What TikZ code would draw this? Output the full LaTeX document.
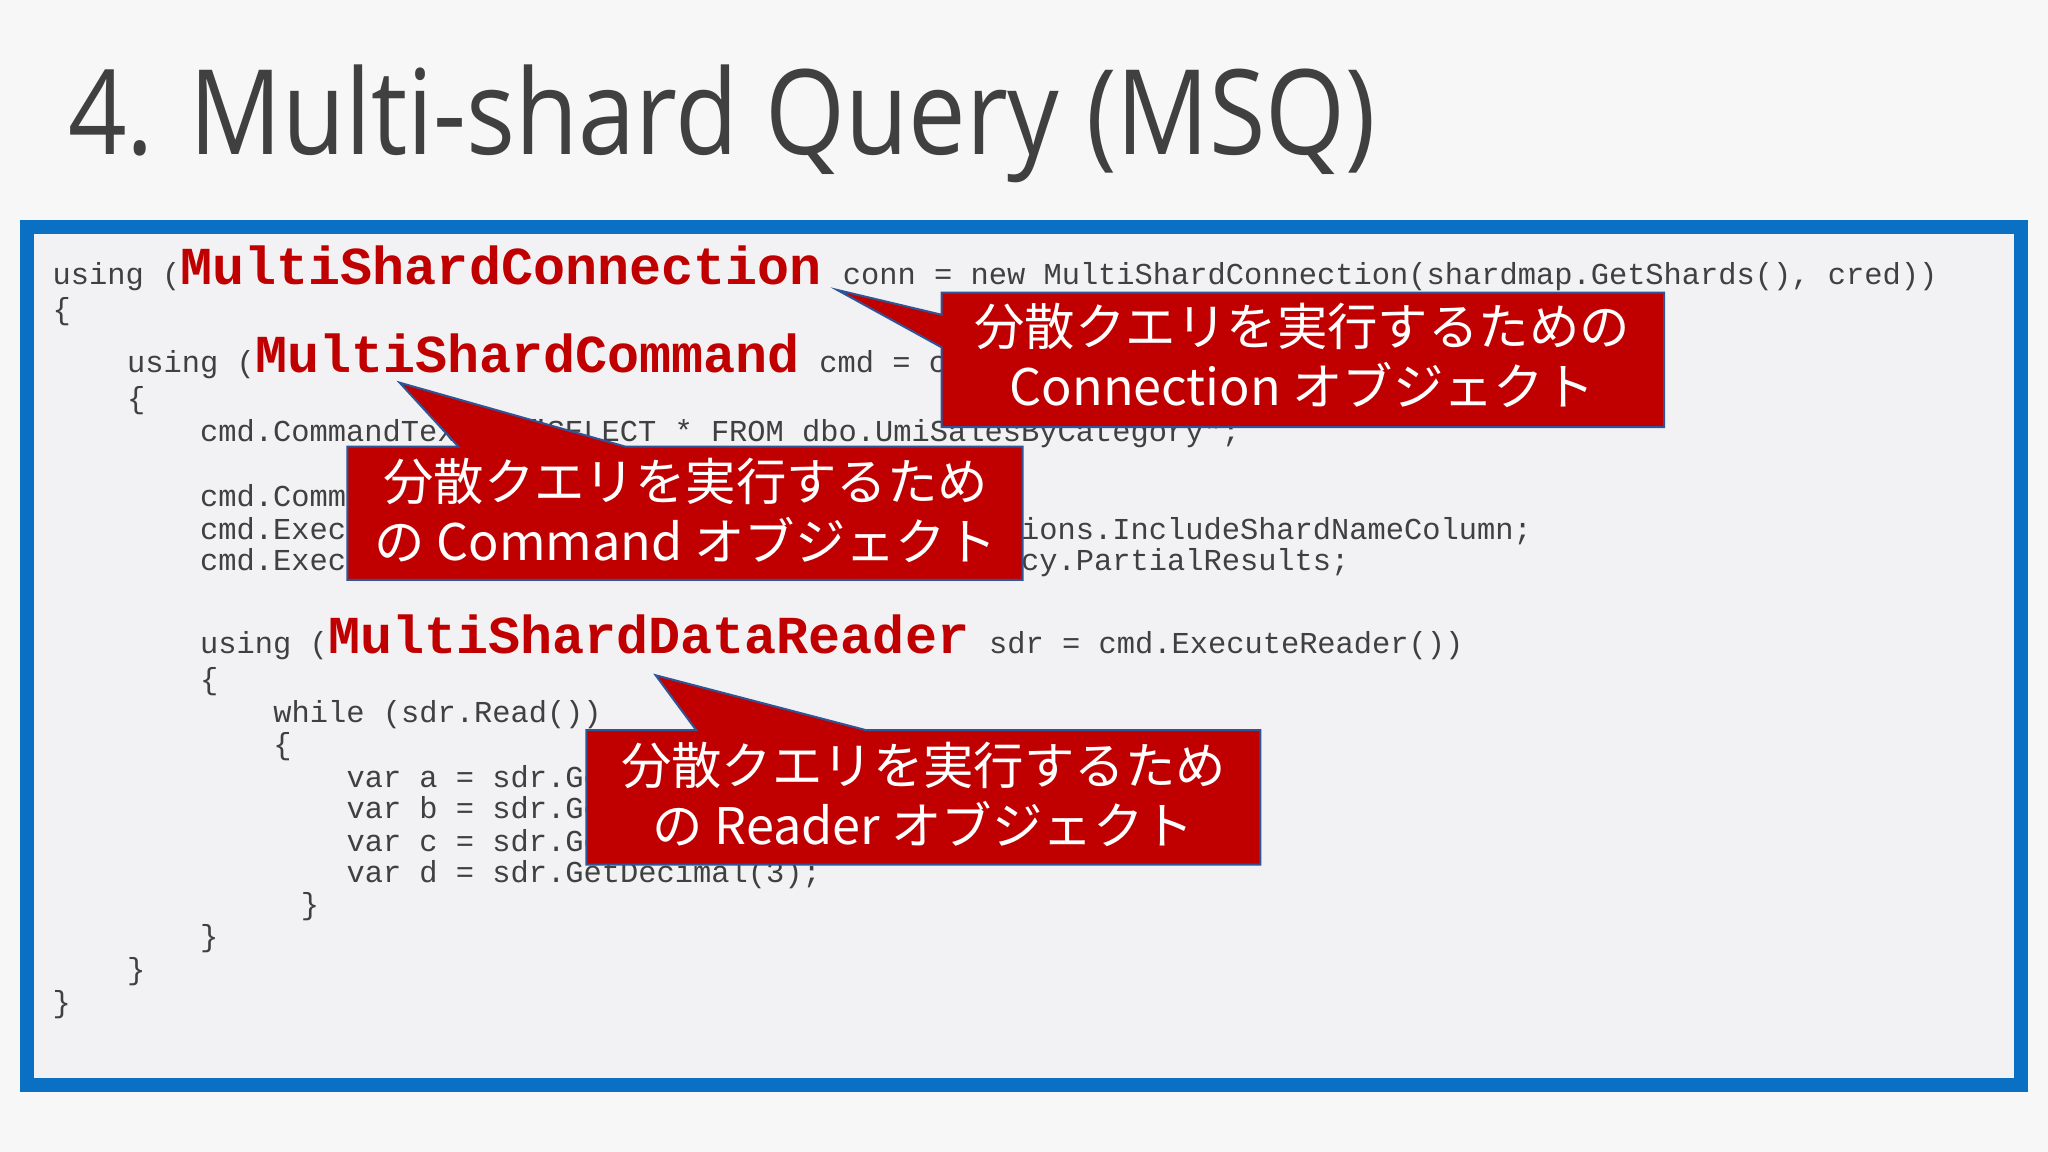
\documentclass[tikz,border=0pt]{standalone}
\usepackage{fontspec}
\setmainfont{Open Sans}
\newfontfamily\codefont{Liberation Mono}
\newfontfamily\jpfont{Noto Sans CJK JP}
\definecolor{bg}{HTML}{F7F7F7}
\definecolor{panel}{HTML}{F2F2F4}
\definecolor{frame}{HTML}{0A70C4}
\definecolor{codegray}{HTML}{404040}
\definecolor{kred}{HTML}{C00000}
\definecolor{cborder}{HTML}{2F5597}
\begin{document}
\begin{tikzpicture}[x=0.653pt,y=-0.653pt,
  code/.style={anchor=base west,inner sep=0pt,text=codegray,font=\codefont\fontsize{15.2pt}{18pt}\selectfont},
  big/.style={anchor=base west,inner sep=0pt,text=kred,font=\codefont\bfseries\fontsize{26.7pt}{30pt}\selectfont},
  callout/.style={fill=kred,draw=cborder,line width=1pt},
  ctext/.style={text=white,font=\jpfont\fontsize{25.2pt}{30pt}\selectfont,align=center,inner sep=0pt}]
\fill[bg] (0,0) rectangle (1568,882);
\node[anchor=base west,inner sep=0pt,text=codegray,font=\fontsize{59pt}{70pt}\selectfont,xscale=0.87,transform shape] (title) at (52,118) {4. Multi-shard Query (MSQ)};
\draw[frame,fill=panel,line width=7pt] (21,174) rectangle (1547,831);
% code
\node[code] (l1a) at (40,218) {using (};
\node[big] (l1b) at (138,218) {MultiShardConnection};
\node[code] (l1c) at (645,218) {conn = new MultiShardConnection(shardmap.GetShards(), cred))};
\node[code] (l2) at (40,245) {\{};
\node[code] (l3a) at (97,285) {using (};
\node[big] (l3b) at (195,285) {MultiShardCommand};
\node[code] (l3c) at (627,285) {cmd = conn.CreateCommand())};
\node[code] (l4) at (97,313) {\{};
\node[code] (l5) at (153,338) {cmd.CommandText = "SELECT * FROM dbo.UmiSalesByCategory";};
\node[code] (l6) at (153,388) {cmd.CommandType = CommandType.Text;};
\node[code] (l7) at (153,413) {cmd.ExecutionOptions = MultiShardExecutionOptions.IncludeShardNameColumn;};
\node[code] (l8) at (153,437) {cmd.ExecutionPolicy = MultiShardExecutionPolicy.PartialResults;};
\node[code] (l9a) at (153,500) {using (};
\node[big] (l9b) at (251,500) {MultiShardDataReader};
\node[code] (l9c) at (757,500) {sdr = cmd.ExecuteReader())};
\node[code] (l10) at (153,528) {\{};
\node[code] (l11) at (209,553) {while (sdr.Read())};
\node[code] (l12) at (209,578) {\{};
\node[code] (l13) at (265,603) {var a = sdr.GetString(0);};
\node[code] (l14) at (265,627) {var b = sdr.GetString(1);};
\node[code] (l15) at (265,652) {var c = sdr.GetInt32(2);};
\node[code] (l16) at (265,676) {var d = sdr.GetDecimal(3);};
\node[code] (l17) at (230,700) {\}};
\node[code] (l18) at (153,725) {\}};
\node[code] (l19) at (97,750) {\}};
\node[code] (l20) at (40,775) {\}};
% callout 1
\coordinate (t1) at (641,222);
\draw[callout] (t1) -- (721,241) -- (721,224) -- (1274,224) -- (1274,327) -- (721,327) -- (721,266) -- cycle;
\node[ctext] (c1) at (997,272) {分散クエリを実行するための\\Connection オブジェクト};
% callout 2
\coordinate (t2) at (306,293);
\draw[callout] (t2) -- (351,342) -- (266,342) -- (266,444) -- (783,444) -- (783,342) -- (479,342) -- cycle;
\node[ctext] (c2) at (525,391) {分散クエリを実行するため\\の Command オブジェクト};
% callout 3
\coordinate (t3) at (502,517);
\draw[callout] (t3) -- (533,559) -- (449,559) -- (449,662) -- (965,662) -- (965,559) -- (663,559) -- cycle;
\node[ctext] (c3) at (707,608) {分散クエリを実行するため\\の Reader オブジェクト};
\end{tikzpicture}
\end{document}
